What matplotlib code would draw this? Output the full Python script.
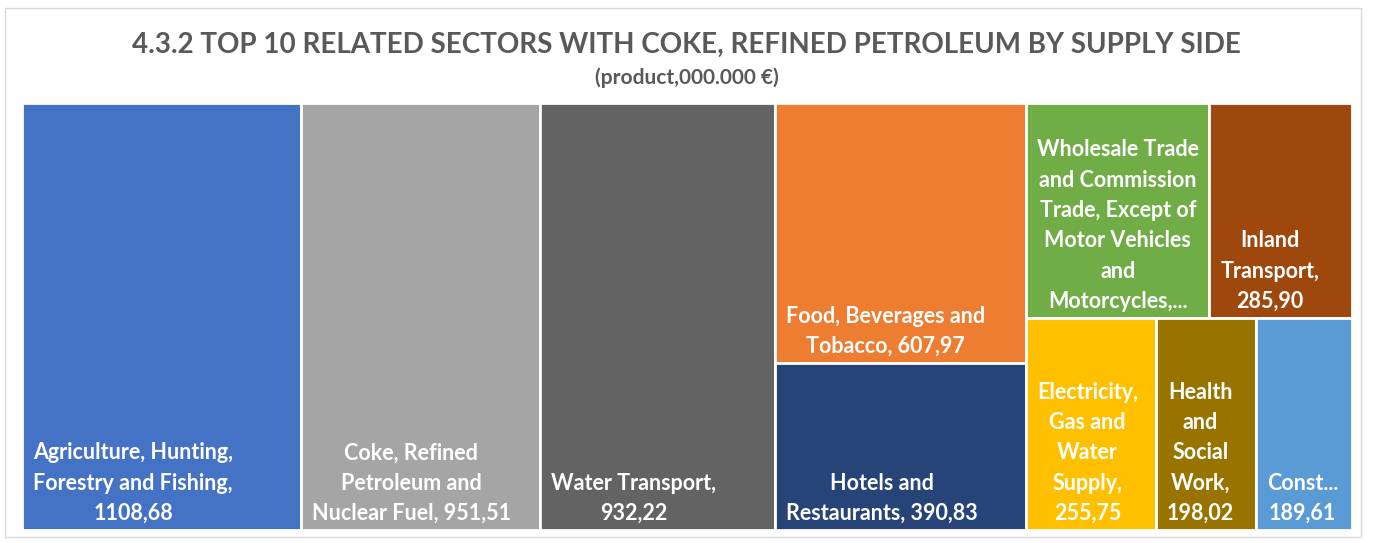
import matplotlib
matplotlib.use("Agg")
import matplotlib.pyplot as plt
from matplotlib.patches import Rectangle

# sector values (million euro), largest first
values = [1108.68, 951.51, 932.22, 607.97, 390.83, 367.0, 285.90, 255.75, 198.02, 189.61]

label_fmt = [
    "Agriculture, Hunting,\nForestry and Fishing,\n{v}",
    "Coke, Refined\nPetroleum and\nNuclear Fuel, {v}",
    "Water Transport,\n{v}",
    "Food, Beverages and\nTobacco, {v}",
    "Hotels and\nRestaurants, {v}",
    "Wholesale Trade\nand Commission\nTrade, Except of\nMotor Vehicles\nand\nMotorcycles,...",
    "Inland\nTransport,\n{v}",
    "Electricity,\nGas and\nWater\nSupply,\n{v}",
    "Health\nand\nSocial\nWork,\n{v}",
    "Const...\n{v}",
]

colors = ["#4472C4", "#A5A5A5", "#636363", "#ED7D31", "#264478",
          "#70AD47", "#9E480E", "#FFC000", "#997300", "#5B9BD5"]

# nesting of the treemap: "h" = side by side, "v" = stacked
layout = ("h", [0, 1, 2, ("v", [3, 4]), ("v", [("h", [5, 6]), ("h", [7, 8, 9])])])


def node_sum(node):
    if isinstance(node, int):
        return values[node]
    return sum(node_sum(c) for c in node[1])


def place(node, x, y, w, h, out):
    if isinstance(node, int):
        out[node] = (x, y, w, h)
        return
    direction, children = node
    total = node_sum(node)
    for c in children:
        frac = node_sum(c) / total
        if direction == "h":
            place(c, x, y, w * frac, h, out)
            x += w * frac
        else:
            place(c, x, y, w, h * frac, out)
            y += h * frac


W, H = 1330.0, 427.0
rects = {}
place(layout, 0, 0, W, H, rects)

fig = plt.figure(figsize=(13.73, 5.43), dpi=100)
fig.patch.set_facecolor("white")

# light frame around the chart
fig.add_artist(Rectangle((5 / 1373, 1 - 537 / 543), 1356 / 1373, 529 / 543,
                         transform=fig.transFigure, fill=False,
                         edgecolor="#D9D9D9", linewidth=1))

ax = fig.add_axes([22 / 1373, 1 - 530 / 543, W / 1373, H / 543])
ax.set_xlim(0, W)
ax.set_ylim(H, 0)
ax.axis("off")

for i, (x, y, w, h) in rects.items():
    ax.add_patch(Rectangle((x, y), w, h, facecolor=colors[i],
                           edgecolor="white", linewidth=2))
    txt = label_fmt[i].format(v=f"{values[i]:.2f}".replace(".", ","))
    # label block sits at the lower left, lines centred inside the block
    ax.text(x + 11, y + h - 6, txt, ha="left", va="bottom",
            multialignment="center", color="white", fontsize=15.5,
            fontweight="bold", family="Lato", linespacing=1.55)

fig.text(0.5, 1 - 45 / 543, "4.3.2 TOP 10 RELATED SECTORS WITH COKE, REFINED PETROLEUM BY SUPPLY SIDE",
         ha="center", va="center", fontsize=20, fontweight="bold",
         family="Lato", color="#595959")
fig.text(0.5, 1 - 78 / 543, "(product,000.000 \u20ac)", ha="center", va="center",
         fontsize=15, fontweight="bold", family="Lato", color="#595959")

fig.savefig("out.png", dpi=100, facecolor="white")
